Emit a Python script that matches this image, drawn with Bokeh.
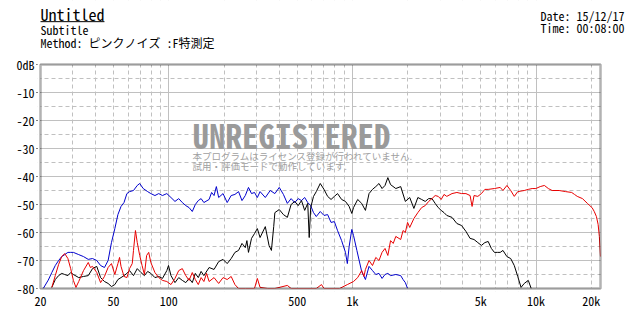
from bokeh.plotting import figure
from bokeh.models import FixedTicker, Grid, Label, Arrow, Range1d, BoxAnnotation
from bokeh.embed import file_html
from bokeh.resources import INLINE

# ---------------- data ----------------
blue_f = [20.7, 22.04, 23.05, 24.07, 25.1, 26.1, 27.1, 28.2, 29.2, 30.2, 32.3, 34.3, 36.4, 38.4,
          40.5, 42.5, 44.6, 46.7, 48.7, 50.8, 52.8, 54.9, 57.0, 59.1, 61.1, 64.2, 67.3, 69.4,
          72.5, 76.7, 79.8, 84.0, 88.1, 92.3, 97.5, 102.7, 108, 113.2, 118.4, 123.7, 128.9,
          134.2, 139.4, 144.7, 149.9, 155.2, 165.7, 171, 176.3, 181.5, 186.8, 197.4, 207.9,
          218.5, 229.1, 239.7, 250.3, 260.9, 271.5, 282.1, 292.8, 303.4, 314, 335.3, 356.7,
          378, 399.4, 420.8, 442.1, 463.5, 485, 506.4, 527.9, 549.4, 570.9, 592.4, 613.9,
          635.5, 667.8, 700.1, 732.5, 764.8, 797.2, 829.7, 873, 916.3, 938, 959.7, 992.2,
          1013.9, 1057.4, 1122.7, 1177.1, 1231.5, 1286.1, 1340.7, 1395.3, 1450, 1504.7,
          1559.4, 1613.3, 1722.7, 1832.3, 1887, 1941.9, 1996.7]
blue_db = [-80, -77, -74.3, -71.8, -70, -68.6, -67.9, -67.1, -67.1, -67.1, -67.9, -68.6, -69.6, -69.3,
           -70, -71.8, -72.5, -70, -63.6, -58.6, -53.6, -50.7, -49.3, -46.1, -45.4, -45, -43.2, -42.5,
           -44.3, -45.4, -46.1, -46.8, -46.1, -46.8, -46.1, -47.5, -48.9, -47.9, -49.3, -50.4, -51.1,
           -52.5, -50, -48.6, -47.9, -49.3, -48.2, -45.7, -46.8, -43.6, -47.5, -46.1, -49.3,
           -46.8, -46.4, -45.4, -48.6, -46.8, -43.9, -46.1, -45.7, -47.5, -45.4, -47.5, -45,
           -46.1, -43.9, -46.4, -49.6, -47.9, -49.3, -47.9, -48.6, -47.5, -49.3, -50.4, -52.9,
           -54.3, -52.5, -53.9, -53.6, -56.4, -56.1, -59.3, -62.9, -67.1, -71.1, -65, -58.9,
           -61.1, -66.4, -73.9, -76.8, -72.1, -73.6, -75, -74.6, -76.4, -75,
           -74.6, -75.4, -75, -75.4, -76.8, -77.9, -80]

black_f = [23.05, 24.07, 25.1, 26.1, 27.1, 28.2, 29.2, 30.2, 32.3, 34.3, 36.4, 38.4, 40.5, 42.5,
           44.6, 46.7, 48.7, 50.8, 52.8, 54.9, 57, 59.1, 61.1, 64.2, 67.3, 70.5, 73.6, 76.7, 79.8,
           84, 88.1, 92.3, 97.5, 99.6, 102.7, 108, 113.2, 118.4, 123.7, 128.9, 134.2, 139.4,
           144.7, 149.9, 155.2, 165.7, 176.3, 186.8, 197.4, 207.9, 218.5, 229.1, 239.7, 250.3,
           260.9, 266.2, 271.5, 282.1, 292.8, 303.4, 314, 335.3, 351.3, 362, 372.6, 378, 399.4,
           420.8, 442.1, 463.5, 485, 506.4, 527.9, 549.4, 570.9, 581.6, 592.4, 613.9, 635.5,
           667.8, 700.1, 732.5, 764.8, 797.2, 829.7, 873, 916.3, 959.7, 992.2, 1013.9, 1068.3,
           1122.7, 1177.1, 1231.5, 1286.1, 1340.7, 1395.3, 1450, 1504.7, 1559.4, 1613.3, 1722.7,
           1832.3, 1941.9, 2051.6, 2161.5, 2271.5, 2381.5, 2491.6, 2601.8, 2712, 2822.4, 2932.8,
           3043.3, 3153.9, 3264.5, 3485.9, 3707.5, 3929.4, 4151.4, 4373.7, 4596.2, 4818.9,
           5041.7, 5264.6, 5487.7, 5711, 5934.4, 6158, 6381.6, 6605.5, 6941.3, 7277.8, 7614.2,
           7951, 8288, 8625, 9075, 9413]
black_db = [-79.6, -76.8, -75.4, -74.6, -75, -75.4, -74.3, -75, -76.1, -75.7, -75.4, -72.9, -72.1, -76.1,
            -77.5, -78.2, -79.3, -78.6, -76.8, -76.1, -75.4, -74.6, -73.6, -75.4, -72.9, -74.3, -75.4, -73.9, -74.6,
            -76.1, -75.7, -76.4, -73.6, -71.8, -75.4, -77.9, -76.1, -77.1, -77.9, -76.4, -77.9, -74.6,
            -76.1, -73.9, -75.4, -72.5, -73.2, -70.4, -69.6, -71.1, -69.3, -67.1, -66.4, -63.9,
            -65.4, -62.9, -67.1, -62.1, -60.4, -58.6, -61.8, -57.9, -64.6, -66.4, -57.9, -52.9, -51.8,
            -53.6, -54.6, -50, -48.9, -50.4, -48.6, -52.1, -49.6, -61.8, -51.1, -47.1, -45.4,
            -42.5, -44.6, -47.1, -48.2, -47.1, -46.1, -48.2, -48.9, -50.7, -53.2, -51.1, -48.2,
            -49.6, -52.1, -46.1, -44.6, -43.6, -42.5, -44.3, -43.2, -40.4, -42.9, -44.3,
            -43.6, -48.9, -47.5, -51.4, -47.5, -48.2, -48.9, -47.9, -47.9, -49.6, -51.1,
            -52.1, -52.9, -53.9, -54.6, -56.8, -57.5, -59.6, -62.1, -62.5, -63.6,
            -64.6, -63.6, -63.2, -65.7, -67.1, -67.1, -67.1, -66.4, -68.6, -69.3, -71.8,
            -75.7, -79.6, -78.2, -77.1, -80]

red_f = [23.05, 24.07, 25.1, 26.1, 27.1, 28.2, 29.2, 30.2, 31.2, 32.3, 34.3, 36.4, 37.4, 38.4, 40.5,
         42.5, 44.6, 46.7, 48.7, 50.8, 52.8, 53.9, 54.9, 57, 59.1, 61.1, 63.2, 64.2, 65.8, 67.3,
         69.4, 71.5, 73.6, 75.7, 77.7, 79.8, 84, 88.1, 92.3, 97.5, 102.7, 108, 113.2, 118.4,
         123.7, 128.9, 134.2, 139.4, 144.7, 149.9, 155.2, 160.5, 165.7, 176.3, 186.8, 197.4,
         207.9, 218.5, 229.1, 239.7, 260.9, 292.8, 303.4, 314, 346, 378, 442.1, 463.5, 635.5,
         678.5, 700.1, 851.3, 938, 1013.9, 1068.3, 1122.7, 1155.3, 1177.1, 1231.5, 1286.1,
         1340.7, 1395.3, 1450, 1504.7, 1559.4, 1613.3, 1668, 1722.7, 1832.3, 1887, 1941.9,
         1996.7, 2051.6, 2161.5, 2271.5, 2381.5, 2491.6, 2601.8, 2712, 2822.4, 2932.8, 3043.3,
         3153.9, 3264.5, 3485.9, 3707.5, 3929.4, 4151.4, 4373.7, 4485, 4596.2, 4818.9, 5041.7,
         5264.6, 5487.7, 5934.4, 6381.6, 6605.5, 6941.3, 7277.8, 7614.2, 7951, 8625, 9075,
         9525, 9976, 10540, 11104, 11669, 12234, 13366, 14499, 15634, 16202, 16770, 17907,
         19045, 19616, 20185, 20755, 21326, 21784, 22125, 22440]
red_db = [-79.6, -75.4, -71.4, -68.6, -67.5, -69.3, -72.9, -77.1, -79.6, -77.5, -73.6, -70.7, -72.5, -72.1, -74.3,
          -77.9, -75.7, -72.5, -71.1, -75, -71.1, -68.9, -72.1, -75.7, -76.1, -72.9, -71.1, -66.4, -59.3, -63.6,
          -68.2, -71.8, -75, -68.2, -67.1, -70.7, -74.3, -76.1, -77.1, -77.5, -78.6, -76.4, -73.6, -72.9,
          -75.4, -77.1, -74.3, -76.8, -78.6, -76.1, -77.5, -74.6, -77.5, -76.1, -78.2, -76.1,
          -76.8, -75.7, -78.6, -80, -80, -80, -76.4, -79.6, -80, -80, -78.9, -80, -80,
          -78.6, -80, -80, -78.6, -77.5, -76.1, -73.6, -75.7, -73.2, -70, -71.8,
          -68.9, -70, -67.1, -65.7, -68.2, -62.9, -63.9, -61.4, -62.5, -59.3, -60,
          -56.4, -58.2, -55, -52.9, -51.1, -50.4, -48.9, -47.9, -46.8, -47.1, -48.2,
          -46.4, -47.1, -46.1, -45.7, -46.1, -46.1, -46.8, -50.7, -46.8, -47.1, -46.1,
          -44.6, -44.6, -44.3, -43.9, -45, -43.2, -45, -47.1, -45.4, -45, -44.6,
          -44.3, -44.3, -43.6, -43.2, -44.3, -45, -45, -45.4, -45.7, -46.4, -47.1, -47.9,
          -49.6, -50.4, -51.1, -52.5, -54.3, -57.1, -61.4, -68.6]

x_min, x_max = 20, 22450          # plotted frequency span
y_min, y_max = -80, 0             # plotted level span (dB)
x_label_ticks = [20, 50, 100, 500, 1000, 5000, 10000, 20000]
x_label_text = ["20", "50", "100", "500", "1k", "5k", "10k", "20k"]
x_solid_ticks = [100, 1000, 10000]
x_dash_ticks = [30, 40, 50, 60, 70, 80, 90, 200, 300, 400, 500, 600, 700, 800, 900,
                2000, 3000, 4000, 5000, 6000, 7000, 8000, 9000, 20000]
y_label_ticks = [0, -10, -20, -30, -40, -50, -60, -70, -80]
y_label_text = ["0dB", "-10", "-20", "-30", "-40", "-50", "-60", "-70", "-80"]
y_dash_ticks = [-5, -15, -25, -35, -45, -55, -65, -75]

title_text = "Untitled"
subtitle_text = "Subtitle"
method_text = "Method: ピンクノイズ :F特測定"
date_text = "Date: 15/12/17"
time_text = "Time: 00:08:00"
wm_text = "UNREGISTERED"
wm_line1 = "本プログラムはライセンス登録が行われていません."
wm_line2 = "試用・評価モードで動作しています."

MONO = "Noto Sans Mono CJK JP"
JP = "Noto Sans CJK JP"
GRID = "#c0c0c0"

# The frame is extended upward and to the right so that the header texts
# (which Bokeh would clip outside the frame) can be drawn; those extra
# strips are masked white and the chart box is drawn as a box annotation.
p = figure(width=640, height=320, x_axis_type="log",
           x_range=Range1d(19.26, 37070), y_range=Range1d(-81.07, 22.857),
           output_backend="svg", toolbar_location=None,
           min_border_left=37, min_border_right=0, min_border_top=0, min_border_bottom=29)
p.background_fill_color = "white"
p.border_fill_color = "white"
p.grid.grid_line_color = None
p.outline_line_color = None

p.add_layout(Grid(dimension=0, ticker=FixedTicker(ticks=x_solid_ticks), grid_line_color=GRID, grid_line_width=1))
p.add_layout(Grid(dimension=0, ticker=FixedTicker(ticks=x_dash_ticks), grid_line_color=GRID,
                  grid_line_width=1, grid_line_dash="4 3"))
p.add_layout(Grid(dimension=1, ticker=FixedTicker(ticks=y_label_ticks), grid_line_color=GRID, grid_line_width=1))
p.add_layout(Grid(dimension=1, ticker=FixedTicker(ticks=y_dash_ticks), grid_line_color=GRID,
                  grid_line_width=1, grid_line_dash="4 3"))

xa = p.xaxis[0]
xa.ticker = FixedTicker(ticks=x_label_ticks)
xa.major_label_overrides = {t: s for t, s in zip(x_label_ticks, x_label_text)}
xa.axis_line_color = None
xa.major_tick_out = 0
xa.major_tick_in = 0
xa.minor_tick_out = 0
xa.minor_tick_in = 0
xa.major_label_standoff = 0

ya = p.yaxis[0]
ya.ticker = FixedTicker(ticks=y_label_ticks)
ya.major_label_overrides = {t: s for t, s in zip(y_label_ticks, y_label_text)}
ya.axis_line_color = None
ya.major_tick_out = 1
ya.major_tick_in = 3
ya.major_tick_line_color = "black"
ya.minor_tick_out = 0
ya.minor_tick_in = 0
ya.major_label_standoff = 2

for ax in (xa, ya):
    ax.major_label_text_font = MONO
    ax.major_label_text_font_size = "12px"
    ax.major_label_text_color = "black"

p.line(blue_f, blue_db, line_color="#0000cc", line_width=1)
p.line(black_f, black_db, line_color="black", line_width=1)
p.line(red_f, red_db, line_color="#e80000", line_width=1)

# white masks around the chart box
for l, r, b, t in [(1, 1e6, y_max, 100), (x_max, 1e6, -200, 100),
                   (1, x_min, -200, 100), (1, 1e6, -200, y_min)]:
    p.add_layout(BoxAnnotation(left=l, right=r, bottom=b, top=t, fill_color="white",
                               fill_alpha=1.0, line_color=None))
# chart box border
p.add_layout(BoxAnnotation(left=x_min, right=x_max, bottom=y_min, top=y_max, fill_alpha=0,
                           line_color="black", line_width=2.5))


def lab(x, y, text, font, size, color="black", style="normal"):
    p.add_layout(Label(x=x, y=y, text=text, text_font=font, text_font_size=size,
                       text_color=color, text_font_style=style,
                       text_align="left", text_baseline="alphabetic"))


# header texts (positions in data units; y above 0 dB lies above the chart box)
lab(20, 17.96, title_text, MONO, "16px")
p.add_layout(Arrow(x_start=20, y_start=15.3, x_end=44.6, y_end=15.3, end=None,
                   line_color="black", line_width=1))
lab(20, 12.39, subtitle_text, MONO, "12px")
lab(20, 7.96, method_text, MONO, "12px")
lab(10576, 17.5, date_text, MONO, "12px")
lab(10576, 13.3, time_text, MONO, "12px")

# watermark
lab(134.6, -25.0, wm_text, MONO, "33px", color="#9a9a9a", style="bold")
lab(134.6, -32.8, wm_line1, JP, "9.5px", color="#a0a0a0")
lab(134.6, -36.4, wm_line2, JP, "9.5px", color="#a0a0a0")

open("out.html", "w").write(file_html(p, INLINE))
